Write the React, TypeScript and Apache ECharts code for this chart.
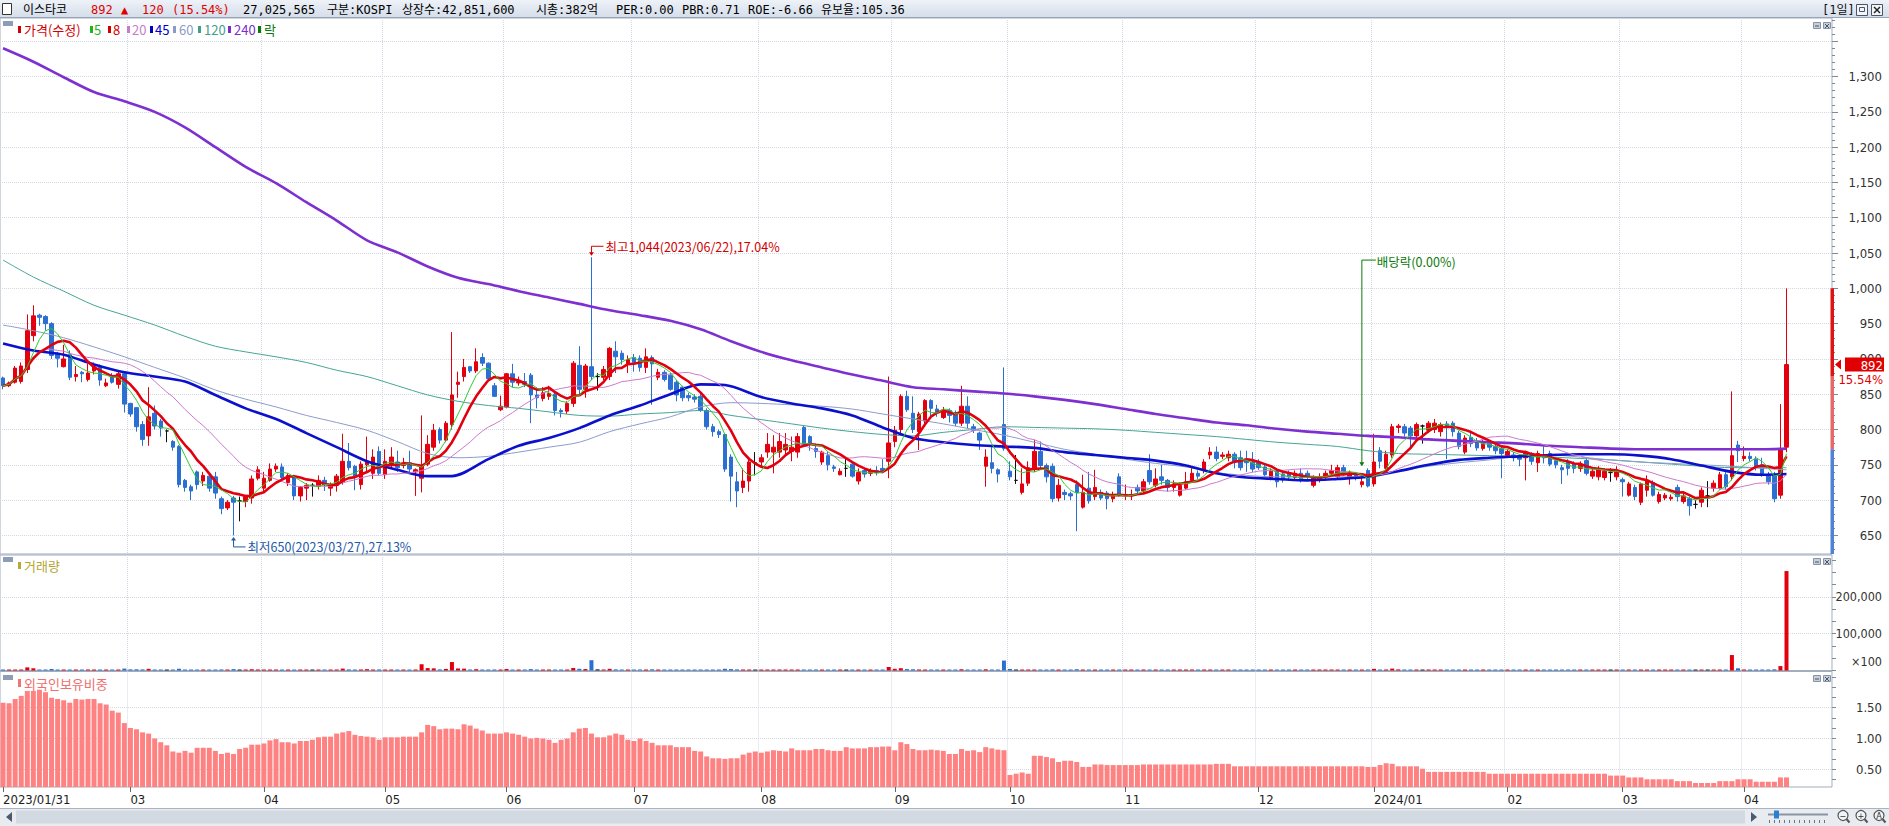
import React, { useEffect, useRef } from "react";
import * as echarts from "echarts";

// ---------------- DATA ----------------
const START = "2023-01-31";
const END = "2024-04-11";
const HOLIDAYS = [
  "2023-03-01", "2023-05-01", "2023-05-05", "2023-05-29", "2023-06-06", "2023-08-15",
  "2023-09-28", "2023-09-29", "2023-10-02", "2023-10-03", "2023-10-09", "2023-12-25",
  "2023-12-29", "2024-01-01", "2024-02-09", "2024-02-12", "2024-03-01", "2024-04-10",
];

// [open, close, low, high]
const OHLC: number[][] = [
  [873,862,857,875],[862,866,860,868],[867,887,865,890],[868,890,865,895],[885,940,880,963],[933,961,925,976],[962,959,947,964],[960,950,940,962],[950,905,900,952],[907,901,888,910],
  [889,900,888,920],[906,874,870,912],[875,878,868,890],[881,879,867,883],[871,880,868,893],[883,889,878,895],[888,870,862,892],[862,866,860,872],[876,867,865,880],[864,879,858,882],
  [879,836,824,880],[837,822,818,838],[831,804,797,832],[807,786,777,812],[791,818,777,860],[823,805,800,834],[812,802,790,815],[798,798,782,800],[783,775,770,785],[776,722,718,778],
  [728,718,712,730],[719,713,700,722],[740,722,715,742],[727,735,720,740],[734,717,712,738],[733,710,702,740],[702,688,680,705],[689,697,686,700],[703,697,650,706],[699,699,670,705],
  [698,705,690,707],[703,730,695,735],[731,743,728,748],[717,731,712,740],[728,744,726,752],[744,748,740,752],[747,732,728,752],[725,735,720,738],[733,706,700,736],[706,718,698,720],
  [717,721,700,724],[721,721,705,724],[720,728,715,735],[728,722,713,733],[717,722,706,725],[721,734,712,737],[726,755,722,794],[755,746,742,781],[748,733,714,750],[722,751,715,755],
  [750,755,740,790],[738,761,730,772],[769,738,735,776],[736,755,730,772],[751,761,745,775],[754,746,740,770],[749,752,745,760],[753,744,740,770],[740,743,706,745],[731,749,711,820],
  [751,779,748,792],[775,799,770,808],[800,785,780,803],[785,809,782,812],[807,849,800,938],[864,867,845,882],[875,888,868,900],[889,883,880,890],[883,896,880,915],[902,894,890,908],
  [894,872,870,895],[862,847,846,866],[828,833,826,848],[832,879,830,880],[879,867,860,893],[866,868,862,875],[868,864,860,880],[877,849,809,880],[849,845,830,860],[844,852,840,860],
  [847,851,842,862],[850,827,820,855],[827,825,817,830],[826,837,822,840],[837,894,832,897],[891,857,850,918],[857,890,845,893],[889,875,870,1044],[875,875,855,880],[874,885,870,890],
  [875,915,870,917],[911,903,880,925],[908,899,892,912],[893,899,880,905],[902,895,882,907],[901,888,882,905],[888,903,880,915],[902,893,835,905],[874,881,870,886],[881,871,868,884],
  [877,857,855,880],[867,849,840,870],[860,845,840,862],[848,845,840,852],[846,843,838,850],[847,827,825,850],[827,804,800,830],[804,797,790,808],[797,793,788,800],[793,744,740,795],
  [761,734,698,765],[726,713,690,740],[718,727,710,745],[727,754,712,760],[753,753,735,768],[754,760,748,765],[768,779,760,795],[768,775,738,792],[768,783,760,795],[771,779,765,795],
  [769,775,755,790],[768,790,760,795],[803,776,775,806],[790,779,770,792],[773,769,760,780],[754,768,750,770],[763,750,742,768],[747,745,740,750],[736,741,735,745],[745,745,733,758],
  [751,734,732,755],[727,739,722,745],[742,737,732,745],[738,742,734,745],[742,739,735,748],[745,742,738,758],[755,781,731,875],[783,799,775,805],[800,847,795,850],[847,828,825,855],
  [823,800,795,847],[797,822,771,825],[812,841,808,843],[841,830,815,843],[829,824,818,835],[817,827,815,832],[827,820,810,830],[824,809,805,827],[809,833,805,862],[833,809,801,847],
  [804,799,795,808],[795,785,771,797],[748,761,719,772],[753,745,738,775],[743,737,725,745],[807,773,770,888],[741,733,728,755],[728,728,723,764],[711,723,708,745],[724,746,720,755],
  [744,769,740,785],[769,749,745,783],[749,733,725,752],[748,702,697,752],[703,721,698,730],[711,708,700,715],[709,706,700,712],[722,711,656,728],[690,711,688,736],[717,699,695,740],
  [705,718,700,743],[711,703,700,715],[710,702,687,713],[702,707,697,712],[733,708,705,738],[706,708,700,722],[706,708,700,715],[718,713,710,722],[713,726,710,730],[742,726,722,765],
  [721,730,718,745],[733,728,722,750],[728,718,712,730],[718,723,712,728],[707,721,705,725],[717,726,715,740],[728,738,725,748],[738,734,730,742],[742,754,738,758],[764,768,758,775],
  [768,759,755,776],[762,764,758,768],[760,765,755,770],[765,754,745,768],[760,746,742,770],[758,753,740,770],[754,744,740,768],[753,746,743,758],[747,736,733,752],[731,741,728,745],
  [741,726,718,745],[737,729,725,740],[738,733,728,742],[732,738,728,742],[738,729,725,745],[738,733,730,742],[721,733,718,735],[729,733,725,738],[733,738,730,742],[738,742,735,750],
  [733,746,730,750],[746,738,735,750],[732,738,722,742],[737,731,728,740],[722,726,718,732],[742,720,718,745],[723,754,719,794],[770,755,745,775],[745,765,743,770],[764,804,760,808],
  [803,805,795,808],[804,795,790,808],[802,791,772,805],[791,807,785,810],[805,805,780,807],[799,809,795,812],[800,809,795,815],[797,807,790,810],[808,805,758,812],[809,797,790,812],
  [795,776,772,798],[768,788,765,792],[789,780,775,795],[784,774,770,788],[773,780,770,785],[780,775,770,785],[776,770,765,780],[773,766,731,778],[763,769,760,772],[764,760,755,768],
  [763,758,748,765],[760,768,728,770],[764,755,750,768],[753,766,740,770],[762,760,752,776],[766,751,748,770],[756,750,745,760],[746,743,723,750],[754,745,735,758],[751,745,738,755],
  [745,751,740,755],[756,738,735,760],[734,741,730,745],[733,743,728,748],[732,741,728,745],[739,739,726,745],[733,741,728,748],[729,726,705,732],[707,723,705,726],[718,705,700,722],
  [697,723,693,725],[714,728,705,735],[725,707,705,728],[698,708,695,712],[703,707,700,710],[702,704,699,708],[718,705,698,722],[698,706,695,712],[702,692,678,705],[694,694,688,700],
  [697,714,690,718],[706,706,690,727],[717,724,712,728],[717,736,715,740],[736,719,715,740],[733,763,728,854],[778,770,754,784],[759,762,755,776],[762,759,755,768],[758,746,742,762],
  [750,737,733,760],[736,726,722,740],[736,702,697,740],[707,772,702,836],[775,892,768,1000],
];

// volume in units of 100 shares
const VOLUME = [
  1800,1200,2500,2600,8500,6000,2200,2400,4200,1900,
  2100,2600,1500,1300,1600,1700,2200,1200,1400,1800,
  5200,3100,3300,3000,4500,2400,1800,1500,1700,4800,
  2600,2000,2500,1900,2100,2700,2900,1600,3800,2500,
  1700,3500,2800,1900,2600,1500,1900,1800,2600,1900,
  1400,1300,1700,1500,1400,1800,5200,3000,2200,2800,
  3600,2500,2900,2200,2000,1700,1300,1600,2400,17000,
  6500,5800,3000,4200,23000,5500,5000,2400,3600,2200,
  2500,2800,2100,4200,2600,1500,1600,3800,1900,1700,
  1500,2400,1600,1800,6800,4600,3900,28000,3200,2000,
  4500,3000,1800,1500,1400,1600,2200,3300,1700,1500,
  1900,1800,1600,1200,1100,1900,2500,1700,1300,4700,
  3900,3000,2300,2700,1900,1500,2500,2300,2100,1700,
  1500,2000,2400,1400,1200,1300,1500,1000,1100,1200,
  1600,1500,1000,900,1000,1200,9500,4500,6200,3800,
  3400,2800,2600,2000,1400,1500,1300,1600,3400,2500,
  1500,1900,3300,1800,1400,27000,4200,2600,2100,2300,
  2600,2000,1600,3200,2000,1200,1100,3500,2200,1900,
  1500,1200,1500,1000,2300,1100,1000,1000,1300,2400,
  1300,1200,1100,1000,1200,1300,1500,1000,1600,2000,
  1700,1000,1100,1300,1400,1200,1300,1000,1200,1100,
  1300,1000,900,900,1000,900,1200,900,1000,1100,
  1300,1100,1000,900,1100,1800,4500,2600,2400,5200,
  3000,2300,2200,2500,1700,1800,1900,1600,2600,1800,
  2000,1700,1300,1200,1100,1000,1000,1500,900,900,
  1000,1300,1000,1100,1200,1100,900,1200,1000,900,
  900,1100,900,900,900,800,900,1300,1400,1200,
  1800,1500,1400,1200,900,800,1100,900,1300,900,
  1500,1600,1200,2000,1800,42000,6000,2500,1800,1900,
  1700,1600,3200,12000,270000,
];

// foreign ownership ratio (%)
const FOREIGN = [
  1.58,1.57,1.64,1.69,1.77,1.77,1.79,1.75,1.66,1.64,
  1.62,1.58,1.64,1.63,1.64,1.64,1.57,1.55,1.45,1.42,
  1.25,1.17,1.15,1.10,1.08,1.00,0.94,0.89,0.79,0.77,
  0.80,0.77,0.85,0.85,0.85,0.80,0.75,0.77,0.75,0.83,
  0.85,0.90,0.90,0.92,0.97,0.99,0.94,0.94,0.92,0.96,
  0.96,0.98,1.02,1.03,1.03,1.08,1.10,1.12,1.06,1.04,
  1.03,1.02,0.98,1.02,1.02,1.02,1.03,1.03,1.03,1.10,
  1.22,1.20,1.15,1.16,1.16,1.15,1.23,1.21,1.16,1.13,
  1.08,1.08,1.08,1.10,1.08,1.06,1.03,1.00,1.01,1.00,
  0.98,0.93,0.98,1.00,1.10,1.16,1.17,1.08,1.02,1.02,
  1.05,1.08,1.06,0.98,0.96,1.00,0.96,0.93,0.89,0.89,
  0.89,0.86,0.86,0.86,0.80,0.79,0.71,0.68,0.68,0.67,
  0.68,0.68,0.74,0.77,0.79,0.77,0.79,0.81,0.80,0.79,
  0.84,0.81,0.81,0.81,0.83,0.83,0.81,0.80,0.80,0.86,
  0.84,0.84,0.84,0.86,0.86,0.87,0.87,0.81,0.94,0.91,
  0.83,0.81,0.81,0.82,0.81,0.80,0.75,0.75,0.83,0.80,
  0.81,0.78,0.86,0.84,0.82,0.81,0.41,0.43,0.45,0.43,
  0.72,0.72,0.70,0.68,0.62,0.64,0.64,0.62,0.54,0.54,
  0.58,0.58,0.57,0.57,0.57,0.57,0.57,0.57,0.58,0.58,
  0.58,0.58,0.58,0.58,0.58,0.58,0.58,0.58,0.58,0.58,
  0.59,0.59,0.59,0.55,0.55,0.55,0.55,0.55,0.55,0.55,
  0.55,0.55,0.55,0.55,0.55,0.55,0.55,0.55,0.55,0.55,
  0.55,0.55,0.55,0.55,0.55,0.54,0.54,0.57,0.60,0.59,
  0.55,0.55,0.55,0.55,0.51,0.46,0.46,0.46,0.46,0.46,
  0.46,0.46,0.46,0.46,0.46,0.43,0.43,0.43,0.43,0.43,
  0.43,0.43,0.43,0.43,0.43,0.43,0.43,0.43,0.43,0.43,
  0.43,0.43,0.43,0.43,0.43,0.40,0.40,0.40,0.37,0.37,
  0.37,0.34,0.34,0.34,0.34,0.34,0.31,0.31,0.31,0.28,
  0.28,0.28,0.28,0.31,0.31,0.31,0.34,0.34,0.34,0.30,
  0.30,0.30,0.30,0.37,0.37,
];

// long moving averages: [bar index, value]
const MA45_PTS = [[0,922],[5,912],[10,906],[15,892],[20,881],[25,875],[30,868],[35,849],[40,830],[45,815],[50,795],[55,775],[60,755],[65,743],[70,734],[74,734],[80,758],[85,777],[90,788],[95,802],[100,820],[105,834],[110,850],[115,864],[119,863],[125,846],[130,837],[135,830],[140,820],[145,803],[150,788],[155,782],[160,778],[165,776],[170,774],[175,768],[180,764],[185,760],[190,756],[195,749],[200,738],[205,732],[210,730],[215,728],[220,730],[225,733],[230,741],[235,750],[240,757],[245,760],[250,762],[255,764],[260,765],[265,765],[270,763],[275,758],[280,749],[285,740],[290,736],[294,737]];
const MA60_PTS = [[0,948],[5,940],[10,930],[15,917],[20,903],[25,888],[30,873],[35,856],[40,843],[45,832],[50,820],[55,810],[60,799],[65,783],[70,766],[75,760],[80,762],[85,768],[90,775],[95,782],[100,797],[105,808],[110,818],[115,832],[120,838],[125,837],[130,835],[135,833],[140,829],[145,822],[150,815],[155,808],[160,800],[165,792],[170,782],[175,772],[180,765],[185,758],[190,752],[195,747],[200,739],[205,735],[210,733],[215,733],[220,733],[225,734],[230,741],[235,748],[240,753],[245,757],[250,762],[255,764],[260,761],[265,757],[270,754],[275,752],[280,750],[285,748],[290,745],[294,743]];
const MA120_PTS = [[0,1040],[5,1016],[10,996],[15,976],[20,962],[25,948],[30,932],[35,918],[40,910],[45,903],[50,895],[55,884],[60,875],[65,862],[70,849],[75,840],[80,834],[85,830],[90,825],[95,820],[100,819],[105,822],[110,824],[115,827],[120,820],[125,814],[130,808],[135,802],[140,797],[145,793],[150,791],[155,796],[160,800],[165,804],[170,803],[175,802],[180,801],[185,799],[190,796],[195,793],[200,790],[205,786],[210,782],[215,779],[220,776],[225,770],[230,766],[235,765],[240,764],[245,763],[250,762],[255,761],[260,759],[265,757],[270,754],[275,751],[280,748],[285,746],[290,746],[294,746]];
const MA240_PTS = [[0,1340],[5,1321],[10,1299],[15,1278],[20,1265],[25,1250],[30,1228],[35,1200],[40,1172],[45,1149],[50,1122],[55,1096],[60,1068],[65,1051],[70,1031],[75,1015],[80,1006],[85,996],[90,987],[95,978],[100,969],[105,962],[110,954],[115,942],[120,925],[125,910],[130,898],[135,888],[140,878],[145,869],[150,860],[155,857],[160,854],[165,851],[170,847],[175,842],[180,836],[185,829],[190,822],[195,816],[200,810],[205,806],[210,801],[215,797],[220,794],[225,791],[230,789],[235,786],[240,784],[245,782],[250,780],[255,777],[260,775],[265,773],[270,772],[280,772],[290,772],[294,773]];

const PRICE_LABELS = [650,700,750,800,850,900,950,1000,1050,1100,1150,1200,1250,1300];
const PRICE_GRID = [650,700,750,800,850,900,950,1000,1050,1100,1150,1200,1250,1300,1350];
const VOL_LABELS = [100000, 200000];
const FOR_LABELS = [0.5, 1.0, 1.5];

const HIGH_MARK = { index: 97, value: 1044, text: "최고1,044(2023/06/22),17.04%" };
const LOW_MARK = { index: 38, value: 650, text: "최저650(2023/03/27),27.13%" };
const DIV_MARK = { index: 224, text: "배당락(0.00%)" };
const LAST = { price: 892, pct: "15.54%", prevClose: 772, upper: 1000, mid: 875 };

const HEADER_ITEMS: [string, number, string][] = [
  ["이스타코", 23, "#000"], ["892", 91, "#e00000"], ["▲", 121, "#e00000"], ["120", 142, "#e00000"],
  ["(15.54%)", 172, "#e00000"], ["27,025,565", 243, "#000"], ["구분:KOSPI", 327, "#000"],
  ["상장수:42,851,600", 402, "#000"], ["시총:382억", 536, "#000"], ["PER:0.00", 616, "#000"],
  ["PBR:0.71", 682, "#000"], ["ROE:-6.66", 748, "#000"], ["유보율:105.36", 821, "#000"],
];
const LEGEND_ITEMS: [string, string, number, number][] = [
  ["가격(수정)", "#d40000", 18, 24], ["5", "#1fb51f", 90, 94], ["8", "#d40000", 108, 113],
  ["20", "#c77cc7", 127, 132], ["45", "#0000c8", 150, 155], ["60", "#8a9cc6", 173, 179],
  ["120", "#3f9e8e", 198, 204], ["240", "#7a2ec8", 228, 234], ["락", "#0a7a0a", 258, 264],
];

// ---------------- HELPERS ----------------
function tradingDays(): string[] {
  const out: string[] = [];
  const hol = new Set(HOLIDAYS);
  const d = new Date(START + "T00:00:00Z");
  const end = new Date(END + "T00:00:00Z");
  while (d.getTime() <= end.getTime()) {
    const wd = d.getUTCDay();
    const iso = d.toISOString().slice(0, 10);
    if (wd !== 0 && wd !== 6 && !hol.has(iso)) out.push(iso.replace(/-/g, "/"));
    d.setUTCDate(d.getUTCDate() + 1);
  }
  return out;
}
const DATES = tradingDays();
const PAD = 7;
const CATS = [...DATES, ...Array.from({ length: PAD }, (_, i) => "pad" + i)];
const CLOSE = OHLC.map((r) => r[1]);
function sma(arr: number[], n: number) {
  return arr.map((_, i) => {
    const s = Math.max(0, i - n + 1);
    let sum = 0;
    for (let k = s; k <= i; k++) sum += arr[k];
    return +(sum / (i - s + 1)).toFixed(2);
  });
}
// month-start markers; a month start within a few bars of the first bar is not labelled
const monthStarts = new Set<number>();
DATES.forEach((d, i) => {
  if (i === 0) monthStarts.add(i);
  else if (i >= 5 && d.slice(5, 7) !== DATES[i - 1].slice(5, 7)) monthStarts.add(i);
});
const isMS = (i: number) => monthStarts.has(i);
const monthLabel = (i: number) => {
  const d = DATES[i];
  if (!d) return "";
  if (i === 0) return d;
  const m = d.slice(5, 7);
  return m === "01" ? d.slice(0, 7) : m;
};

const UP = "#e3000e";
const DOWN = "#2c6fd3";
const FONT_NUM = '"Liberation Sans Narrow", "DejaVu Sans Condensed", "Noto Sans CJK KR", sans-serif';
const FONT_KR = '"Noto Sans CJK KR", "Noto Sans", sans-serif';
const FONT_HEAD = '"DejaVu Sans Mono", "Noto Sans CJK KR", monospace';

const P_MIN = 623.7, P_MAX = 1382.9;
const V_MIN = 0, V_MAX = 313600;
const F_MIN = 0.215, F_MAX = 2.085;

const range = (a: number, b: number, step: number) => {
  const out: number[] = [];
  for (let v = a; v <= b + 1e-9; v += step) out.push(+v.toFixed(4));
  return out;
};

function dirColor(i: number) {
  const [o, c] = OHLC[i];
  return c > o ? UP : c < o ? DOWN : "#222";
}

function txt(text: string, x: number, y: number, fill: string, size: number, family: string, align = "left", z = 60) {
  return {
    type: "text", x, y, silent: true, z,
    style: { text, fill, font: `${size}px ${family}`, align, verticalAlign: "middle", textAlign: align, textVerticalAlign: "middle" },
  };
}
function rect(x: number, y: number, w: number, h: number, fill: string, stroke?: string, z = 60) {
  return { type: "rect", silent: true, z, shape: { x, y, width: w, height: h }, style: stroke ? { fill, stroke, lineWidth: 1 } : { fill } };
}
function line(x1: number, y1: number, x2: number, y2: number, stroke: string, w = 1, z = 60) {
  return { type: "line", silent: true, z, shape: { x1, y1, x2, y2 }, style: { stroke, lineWidth: w } };
}
function poly(points: number[][], fill: string, z = 60) {
  return { type: "polygon", silent: true, z, shape: { points }, style: { fill } };
}

function buildOption() {
  const xAxis = [0, 1, 2].map((gi) => ({
    type: "category",
    gridIndex: gi,
    data: CATS,
    boundaryGap: true,
    axisLine: { show: false },
    axisTick: gi === 2
      ? { show: true, interval: (i: number) => isMS(i), alignWithLabel: true, length: 5, lineStyle: { color: "#666" } }
      : { show: false },
    axisLabel: gi === 2
      ? {
          show: true, interval: (i: number) => isMS(i), formatter: (_v: string, i: number) => monthLabel(i),
          align: "left", margin: 6, color: "#222", fontSize: 13, fontFamily: FONT_NUM,
        }
      : { show: false },
    splitLine: { show: true, interval: (i: number) => isMS(i) && i > 0, lineStyle: { color: "#d3d9e3", type: "dotted", width: 1 } },
  }));

  const lblBase = { align: "right", margin: 50, color: "#333", fontSize: 13, fontFamily: FONT_NUM };
  const yAxis = [
    {
      type: "value", gridIndex: 0, position: "right", min: P_MIN, max: P_MAX,
      splitLine: { show: false }, axisLine: { show: false },
      axisTick: { show: true, customValues: range(630, 1380, 10), length: 3, lineStyle: { color: "#7f8a99" } },
      axisLabel: { ...lblBase, customValues: PRICE_LABELS, formatter: (v: number) => Number(v).toLocaleString("en-US") },
    },
    {
      type: "value", gridIndex: 0, position: "right", min: P_MIN, max: P_MAX,
      splitLine: { show: false }, axisLine: { show: false }, axisLabel: { show: false },
      axisTick: { show: true, customValues: PRICE_GRID, length: 6, lineStyle: { color: "#7f8a99" } },
    },
    {
      type: "value", gridIndex: 1, position: "right", min: V_MIN, max: V_MAX,
      splitLine: { show: false }, axisLine: { show: false },
      axisTick: { show: true, customValues: range(0, 300000, 100000 / 3).map((v) => Math.round(v)), length: 4, lineStyle: { color: "#7f8a99" } },
      axisLabel: { ...lblBase, fontSize: 12.5, customValues: VOL_LABELS, formatter: (v: number) => Number(v).toLocaleString("en-US") },
    },
    {
      type: "value", gridIndex: 2, position: "right", min: F_MIN, max: F_MAX,
      splitLine: { show: false }, axisLine: { show: false },
      axisTick: { show: true, customValues: range(0.3333, 2.0, 0.5 / 3), length: 4, lineStyle: { color: "#7f8a99" } },
      axisLabel: { ...lblBase, customValues: FOR_LABELS, formatter: (v: number) => Number(v).toFixed(2) },
    },
  ];

  const gridStyle = { show: true, borderColor: "#a3adbb", borderWidth: 1, left: 0, right: 57 };
  const grid = [
    { ...gridStyle, top: 18, height: 536 },
    { ...gridStyle, top: 555, height: 115.5 },
    { ...gridStyle, top: 671.5, height: 115.5 },
  ];

  const maLine = (name: string, data: any, color: string, width: number, z = 4, smooth: any = false) => ({
    type: "line", name, xAxisIndex: 0, yAxisIndex: 0, data, symbol: "none", showSymbol: false,
    smooth, silent: true, z, lineStyle: { color, width }, emphasis: { disabled: true },
  });
  const dotted = { color: "#d3d9e3", type: "dotted", width: 1 };

  const series: any[] = [
    {
      type: "line", name: "grid", xAxisIndex: 0, yAxisIndex: 0, data: CLOSE, symbol: "none", silent: true, z: 1,
      lineStyle: { opacity: 0 },
      markLine: { silent: true, z: 1, symbol: ["none", "none"], label: { show: false }, lineStyle: dotted, data: PRICE_GRID.map((v) => ({ yAxis: v })) },
    },
    {
      type: "candlestick", name: "가격", xAxisIndex: 0, yAxisIndex: 0, data: OHLC.map((r) => [r[0], r[1], r[2], r[3]]),
      barWidth: 4, z: 2, silent: true,
      itemStyle: { color: UP, color0: DOWN, borderColor: UP, borderColor0: DOWN, borderColorDoji: "#111", borderWidth: 1 },
    },
    maLine("240", MA240_PTS, "#7d2fd0", 2.6, 3, 0.3),
    maLine("120", MA120_PTS, "#45a596", 1, 3, 0.3),
    maLine("60", MA60_PTS, "#8c9dcc", 1, 3, 0.3),
    maLine("45", MA45_PTS, "#0a10cc", 2.6, 4, 0.3),
    maLine("20", sma(CLOSE, 20), "#cc7acc", 1, 4),
    maLine("8", sma(CLOSE, 8), "#e3000e", 2.6, 5),
    maLine("5", sma(CLOSE, 5), "#2ecc2e", 1, 5),
    {
      type: "bar", name: "거래량", xAxisIndex: 1, yAxisIndex: 2, barWidth: 4, barMinHeight: 1, silent: true, z: 2,
      data: VOLUME.map((v, i) => ({ value: v, itemStyle: { color: dirColor(i) } })),
      markLine: { silent: true, z: 1, symbol: ["none", "none"], label: { show: false }, lineStyle: dotted, data: VOL_LABELS.map((v) => ({ yAxis: v })) },
    },
    {
      type: "bar", name: "외국인보유비중", xAxisIndex: 2, yAxisIndex: 3, barWidth: 5, silent: true, z: 2,
      data: FOREIGN, itemStyle: { color: "#ff8282" },
      markLine: { silent: true, z: 1, symbol: ["none", "none"], label: { show: false }, lineStyle: dotted, data: FOR_LABELS.map((v) => ({ yAxis: v })) },
    },
  ];

  return {
    animation: false,
    backgroundColor: "#ffffff",
    grid, xAxis, yAxis, series,
  };
}

function buildGraphics(chart: any) {
  const g: any[] = [];
  const W = 1889;
  const P = (i: number, v: number) => chart.convertToPixel({ xAxisIndex: 0, yAxisIndex: 0 }, [i, v]) as number[];
  const PY = (v: number) => chart.convertToPixel({ yAxisIndex: 0 }, v) as number;
  const VY = (v: number) => chart.convertToPixel({ yAxisIndex: 2 }, v) as number;

  // header bar
  g.push({
    type: "rect", silent: true, z: 50, shape: { x: 0, y: 0, width: W, height: 18 },
    style: { fill: new (echarts as any).graphic.LinearGradient(0, 0, 0, 1, [{ offset: 0, color: "#eef2f8" }, { offset: 1, color: "#d4dde9" }]) },
  });
  g.push(line(0, 17.5, W, 17.5, "#98a6b9", 1, 51));
  g.push(rect(2.5, 3.5, 9, 11, "#ffffff", "#333", 52));
  HEADER_ITEMS.forEach(([t, x, c]) => g.push(txt(t, x, 10, c, 12, FONT_HEAD)));
  g.push(txt("[1일]", 1822, 10, "#111", 12, FONT_HEAD));
  g.push(rect(1856.5, 4.5, 11, 11, "#f3f5f8", "#4a5566", 52));
  g.push(rect(1859.5, 7.5, 5, 4, "#f3f5f8", "#4a5566", 53));
  g.push(rect(1871.5, 4.5, 11, 11, "#f3f5f8", "#4a5566", 52));
  g.push(line(1874, 7, 1880, 13, "#222", 1.4, 53));
  g.push(line(1880, 7, 1874, 13, "#222", 1.4, 53));

  // legend
  g.push(rect(3, 21, 10, 5, "#8c9db5"));
  LEGEND_ITEMS.forEach(([t, c, mx, tx]) => {
    g.push(rect(mx, 26, 3, 7, c));
    g.push(txt(t, tx, 29.5, c, 13, FONT_KR));
  });

  // panel titles and icons
  g.push(rect(3, 557, 10, 5, "#8c9db5"));
  g.push(rect(18, 562, 3, 7, "#b8a83a"));
  g.push(txt("거래량", 24, 565.5, "#b4a432", 13, FONT_KR));
  g.push(rect(3, 675, 10, 5, "#8c9db5"));
  g.push(rect(18, 679, 3, 8, "#f07474"));
  g.push(txt("외국인보유비중", 24, 683, "#ee6e6e", 13, FONT_KR));
  [22, 558, 675].forEach((y) => {
    g.push(rect(1813.5, y + 0.5, 7, 6, "#c7cfda", "#8794a8"));
    g.push(line(1815, y + 4, 1819, y + 4, "#4a5566", 1, 61));
    g.push(rect(1823.5, y + 0.5, 7, 6, "#c7cfda", "#8794a8"));
    g.push(line(1825, y + 2, 1829, y + 6, "#4a5566", 1, 61));
    g.push(line(1829, y + 2, 1825, y + 6, "#4a5566", 1, 61));
  });

  // right-axis day range bar
  const yUp = PY(LAST.upper), yMid = PY(LAST.mid), yPrev = PY(LAST.prevClose), yBot = PY(P_MIN);
  g.push(rect(1830.5, yUp, 3.5, yMid - yUp, "#dc1414"));
  g.push(rect(1830.5, yMid, 3.5, yPrev - yMid, "#e36a6a"));
  g.push(rect(1830.5, yPrev, 3.5, yBot - yPrev, "#4f82d4"));

  // current price box
  const yP = PY(LAST.price);
  g.push(poly([[1835, yP], [1841, yP - 5], [1841, yP + 5]], "#e00000", 100));
  g.push(rect(1845, yP - 7, 39, 14, "#e00000", undefined, 100));
  g.push(txt(String(LAST.price), 1883, yP + 0.5, "#ffffff", 13, FONT_NUM, "right", 101));
  g.push(txt(LAST.pct, 1883, yP + 14.5, "#e00000", 13, FONT_NUM, "right", 101));

  // volume unit
  g.push(txt("×100", 1882, VY(24000), "#333", 12.5, FONT_NUM, "right"));

  // high annotation
  const [hx, hy] = P(HIGH_MARK.index, HIGH_MARK.value);
  const hColor = "#d00000";
  g.push(line(hx, hy - 11, hx + 12, hy - 11, hColor));
  g.push(line(hx, hy - 11, hx, hy - 4, hColor));
  g.push(poly([[hx - 2.5, hy - 5], [hx + 2.5, hy - 5], [hx, hy - 1.5]], hColor));
  g.push(txt(HIGH_MARK.text, hx + 14, hy - 10.5, hColor, 12.5, FONT_KR));

  // low annotation
  const [lx, ly] = P(LOW_MARK.index, LOW_MARK.value);
  const lColor = "#2358a8";
  g.push(line(lx, ly + 11.5, lx + 12, ly + 11.5, lColor));
  g.push(line(lx, ly + 4, lx, ly + 11.5, lColor));
  g.push(poly([[lx - 2.5, ly + 5], [lx + 2.5, ly + 5], [lx, ly + 1.5]], lColor));
  g.push(txt(LOW_MARK.text, lx + 14, ly + 11.5, lColor, 12.5, FONT_KR));

  // ex-dividend annotation
  const dHigh = OHLC[DIV_MARK.index][3];
  const [dx, dTip] = P(DIV_MARK.index, dHigh + 16);
  const dTop = PY(1040);
  const dColor = "#0a7a0a";
  g.push(line(dx, dTop, dx + 14, dTop, dColor));
  g.push(line(dx, dTop, dx, dTip - 3, dColor));
  g.push(poly([[dx - 2.5, dTip - 4], [dx + 2.5, dTip - 4], [dx, dTip]], dColor));
  g.push(txt(DIV_MARK.text, dx + 15, dTop + 1, dColor, 12.5, FONT_KR));

  // bottom scroll bar
  g.push(rect(0, 808, W, 18, "#e8ecf1", undefined, 50));
  g.push(line(0, 808.5, W, 808.5, "#a9b3c1", 1, 51));
  g.push(poly([[6, 817], [12, 812], [12, 822]], "#4a5a70", 52));
  g.push(rect(16, 810.5, 1729, 13, "#d3d9e1", undefined, 52));
  g.push(poly([[1751, 812], [1757, 817], [1751, 822]], "#4a5a70", 52));
  g.push(line(1768, 814.5, 1828, 814.5, "#8a94a2", 2, 52));
  g.push(rect(1774, 810.5, 5, 8, "#2a7fd4", undefined, 53));
  for (let x = 1769; x <= 1828; x += 5) g.push(line(x + 0.5, 820, x + 0.5, 823, "#6a7482", 1, 52));
  [[1843, "−"], [1861, "+"], [1879, "A"]].forEach(([x, s]) => {
    const cx = x as number;
    g.push({ type: "circle", silent: true, z: 53, shape: { cx, cy: 815.5, r: 5 }, style: { fill: "#f2f4f7", stroke: "#555", lineWidth: 1.2 } });
    g.push(line(cx + 3.5, 819, cx + 6.5, 822.5, "#555", 2, 53));
    g.push(txt(s as string, cx, 815.5, "#333", 9, FONT_NUM, "center", 54));
  });

  return g;
}

export default function App() {
  const ref = useRef<HTMLDivElement>(null);
  useEffect(() => {
    if (!ref.current) return;
    const chart = echarts.init(ref.current, undefined, { renderer: "svg" });
    chart.setOption(buildOption() as any);
    chart.setOption({ graphic: buildGraphics(chart) } as any);
    return () => chart.dispose();
  }, []);
  return (
    <div
      ref={ref}
      style={{ position: "fixed", left: 0, top: 0, width: 1889, height: 826, background: "#fff" }}
    />
  );
}
